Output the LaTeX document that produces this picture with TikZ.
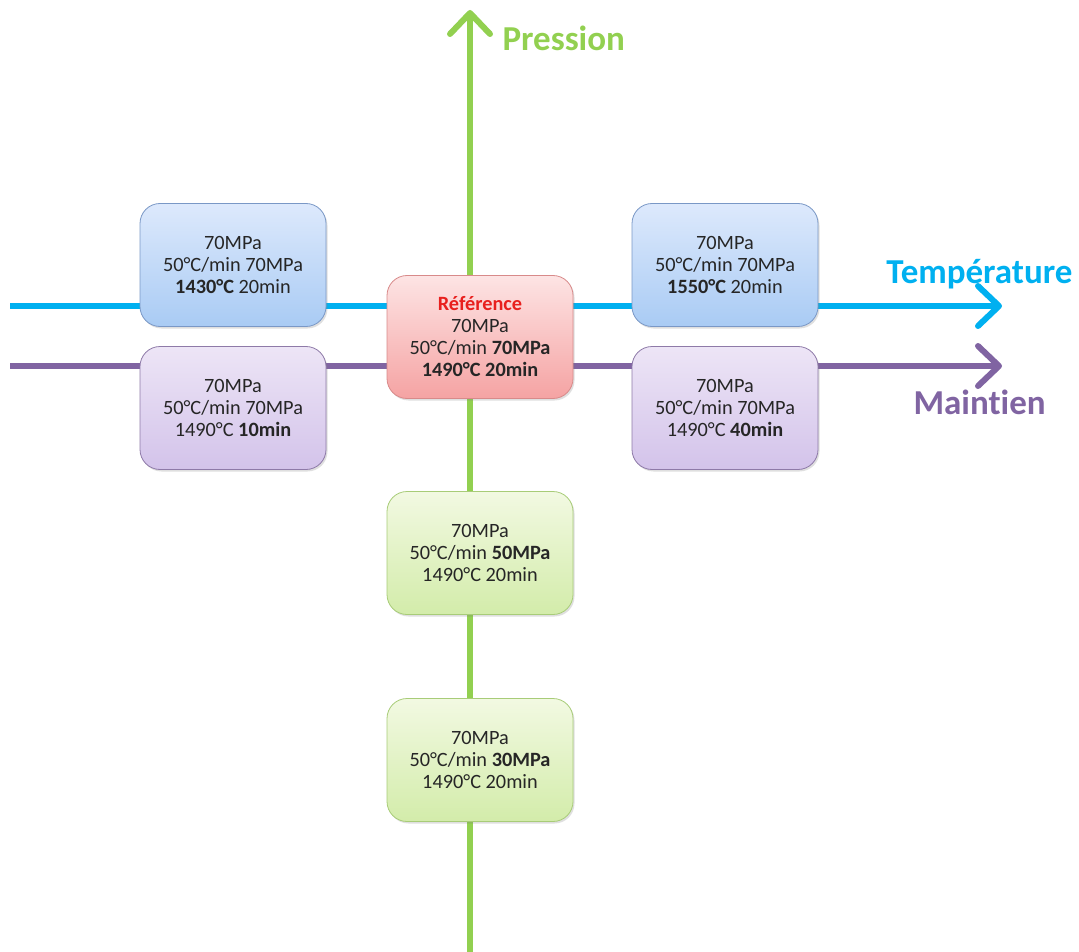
\documentclass[tikz,border=0pt]{standalone}
\usepackage{fontspec}
\setmainfont{Carlito}[Ligatures={NoCommon,NoRare,NoDiscretionary}]
\usetikzlibrary{arrows.meta,shadows}
\definecolor{gax}{HTML}{92D050}
\definecolor{bax}{HTML}{00B0F0}
\definecolor{pax}{HTML}{8064A2}
\definecolor{txt}{HTML}{262626}
\definecolor{refred}{HTML}{E8201E}
\definecolor{btop}{HTML}{DDE9FC}\definecolor{bbot}{HTML}{A9CBF4}\definecolor{bdr}{HTML}{7A98C6}
\definecolor{ptop}{HTML}{EDE5F6}\definecolor{pbott}{HTML}{D3C3EA}\definecolor{pdr}{HTML}{8E7AA8}
\definecolor{gtop}{HTML}{F2F9E2}\definecolor{gbot}{HTML}{D3ECAA}\definecolor{gdr}{HTML}{A8CC78}
\definecolor{rtop}{HTML}{FDE4E4}\definecolor{rbot}{HTML}{F5A3A3}\definecolor{rdr}{HTML}{D88A8A}
\tikzset{
  axis/.style={line width=6pt,-{Straight Barb[length=21pt,width=40pt,round]}},
  box/.style={rounded corners=20pt,minimum width=186pt,minimum height=123pt,
    align=center,text=txt,font=\fontsize{20.3}{22}\selectfont,line width=0.8pt,
    drop shadow={shadow xshift=1.5pt,shadow yshift=-2pt,opacity=0.25,fill=black!50}},
  bluebox/.style={box,draw=bdr,top color=btop,bottom color=bbot},
  purplebox/.style={box,draw=pdr,top color=ptop,bottom color=pbott},
  redbox/.style={box,draw=rdr,top color=rtop,bottom color=rbot},
  greenbox/.style={box,draw=gdr,top color=gtop,bottom color=gbot},
  axlabel/.style={font=\fontsize{35}{40}\selectfont\bfseries}
}
\begin{document}
\begin{tikzpicture}[x=1pt,y=-1pt]
\useasboundingbox (0,0) rectangle (1079,952);
\coordinate (pbot) at (470,952);
\coordinate (ptop) at (470,10);
\coordinate (tl) at (10,306);
\coordinate (tr) at (1002,306);
\coordinate (ml) at (10,366);
\coordinate (mr) at (1002,366);
\draw[axis,gax] (pbot) -- (ptop);
\draw[axis,bax] (tl) -- (tr);
\draw[axis,pax] (ml) -- (mr);
\node[axlabel,text=gax,anchor=west] (lp) at (499,38) {Pression};
\node[axlabel,text=bax,anchor=east] (lt) at (1076,274) {Température};
\node[axlabel,text=pax,anchor=west] (lm) at (910,402) {Maintien};
\node[bluebox] (b1) at (233,265) {70MPa\\50°C/min 70MPa\\\textbf{1430°C} 20min};
\node[purplebox] (p1) at (233,408) {70MPa\\50°C/min 70MPa\\1490°C \textbf{10min}};
\node[redbox] (r) at (480,337) {\textcolor{refred}{\textbf{Référence}}\\70MPa\\50°C/min \textbf{70MPa}\\\textbf{1490°C 20min}};
\node[bluebox] (b2) at (725,265) {70MPa\\50°C/min 70MPa\\\textbf{1550°C} 20min};
\node[purplebox] (p2) at (725,408) {70MPa\\50°C/min 70MPa\\1490°C \textbf{40min}};
\node[greenbox] (g1) at (480,553) {70MPa\\50°C/min \textbf{50MPa}\\1490°C 20min};
\node[greenbox] (g2) at (480,760) {70MPa\\50°C/min \textbf{30MPa}\\1490°C 20min};
\end{tikzpicture}
\end{document}
